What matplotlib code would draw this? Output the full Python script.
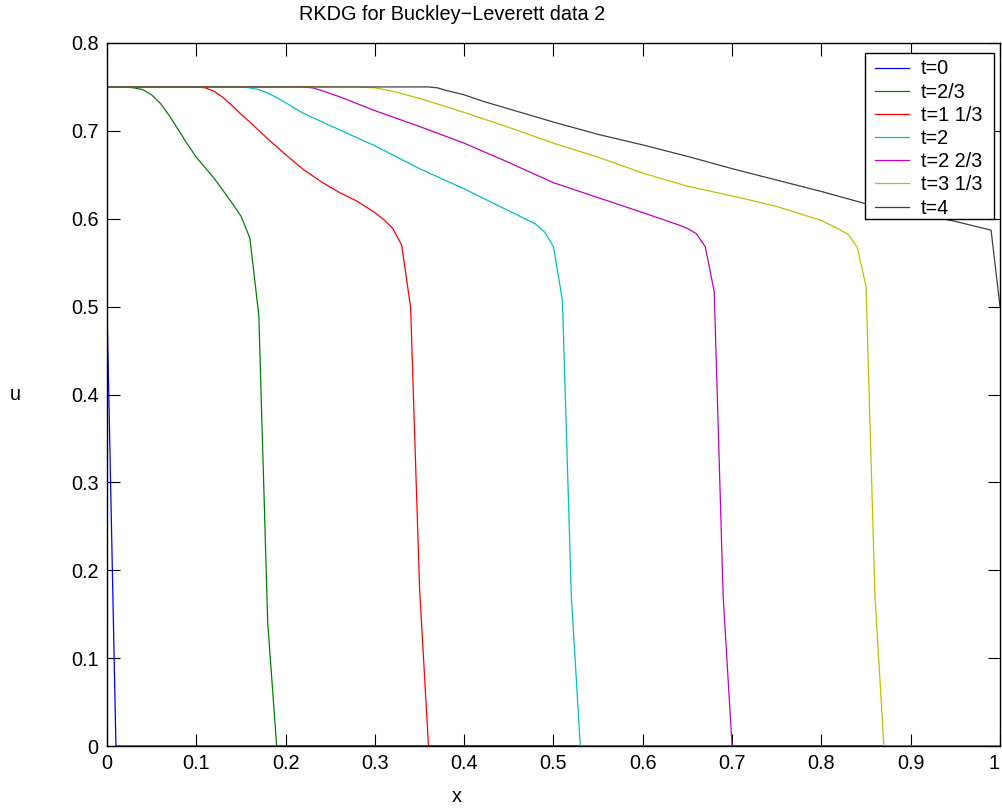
import matplotlib
matplotlib.use("Agg")
import matplotlib.pyplot as plt
from matplotlib.patches import Rectangle

plt.rcParams["font.family"] = ["Liberation Sans", "DejaVu Sans"]

# solution snapshots (x, u)
x_t0 = [0.0, 0.01, 1.0]
u_t0 = [0.5, 0.0, 0.0]

x_t1 = [0.0, 0.02, 0.03, 0.04, 0.05, 0.06, 0.07, 0.08, 0.09, 0.10, 0.11, 0.12,
        0.13, 0.14, 0.15, 0.16, 0.17, 0.18, 0.19, 1.0]
u_t1 = [0.75, 0.75, 0.749, 0.747, 0.741, 0.731, 0.717, 0.701, 0.685, 0.670, 0.658,
        0.646, 0.632, 0.618, 0.603, 0.578, 0.49, 0.14, 0.0, 0.0]

x_t2 = [0.0, 0.09, 0.10, 0.11, 0.12, 0.13, 0.14, 0.15, 0.16, 0.18, 0.20, 0.22,
        0.24, 0.26, 0.28, 0.30, 0.31, 0.32, 0.33, 0.34, 0.35, 0.36, 1.0]
u_t2 = [0.75, 0.75, 0.750, 0.749, 0.745, 0.738, 0.729, 0.719, 0.710, 0.691, 0.673,
        0.656, 0.642, 0.630, 0.620, 0.607, 0.599, 0.589, 0.570, 0.499, 0.18, 0.0, 0.0]

x_t3 = [0.0, 0.15, 0.16, 0.17, 0.18, 0.19, 0.20, 0.22, 0.25, 0.30, 0.35, 0.40,
        0.45, 0.47, 0.48, 0.49, 0.50, 0.51, 0.52, 0.53, 1.0]
u_t3 = [0.75, 0.75, 0.749, 0.747, 0.743, 0.738, 0.732, 0.720, 0.706, 0.683, 0.657,
        0.634, 0.609, 0.599, 0.594, 0.585, 0.568, 0.507, 0.17, 0.0, 0.0]

x_t4 = [0.0, 0.22, 0.23, 0.24, 0.26, 0.28, 0.30, 0.35, 0.40, 0.45, 0.50, 0.55,
        0.60, 0.64, 0.65, 0.66, 0.67, 0.68, 0.69, 0.70, 1.0]
u_t4 = [0.75, 0.75, 0.749, 0.746, 0.739, 0.731, 0.723, 0.705, 0.686, 0.664, 0.641,
        0.624, 0.607, 0.593, 0.589, 0.583, 0.568, 0.517, 0.17, 0.0, 0.0]

x_t5 = [0.0, 0.28, 0.30, 0.32, 0.35, 0.40, 0.45, 0.50, 0.55, 0.60, 0.65, 0.70,
        0.75, 0.80, 0.82, 0.83, 0.84, 0.85, 0.86, 0.87, 1.0]
u_t5 = [0.75, 0.75, 0.749, 0.745, 0.737, 0.721, 0.704, 0.686, 0.670, 0.652, 0.637,
        0.626, 0.614, 0.598, 0.588, 0.582, 0.568, 0.523, 0.17, 0.0, 0.0]

x_t6 = [0.0, 0.36, 0.37, 0.38, 0.40, 0.42, 0.45, 0.50, 0.55, 0.60, 0.65, 0.70,
        0.75, 0.80, 0.85, 0.90, 0.95, 0.99, 1.0]
u_t6 = [0.75, 0.75, 0.749, 0.746, 0.741, 0.734, 0.725, 0.710, 0.696, 0.684, 0.671,
        0.657, 0.644, 0.631, 0.617, 0.607, 0.597, 0.587, 0.50]

labels = ["t=0", "t=2/3", "t=1 1/3", "t=2", "t=2 2/3", "t=3 1/3", "t=4"]

# matlab default color order
colors = [(0, 0, 1), (0, 0.5, 0), (1, 0, 0), (0, 0.75, 0.75),
          (0.75, 0, 0.75), (0.75, 0.75, 0), (0.25, 0.25, 0.25)]

series = [(x_t0, u_t0), (x_t1, u_t1), (x_t2, u_t2), (x_t3, u_t3),
          (x_t4, u_t4), (x_t5, u_t5), (x_t6, u_t6)]

FS = 14.3
W, H = 1003, 808

fig = plt.figure(figsize=(W / 100, H / 100), dpi=100)
ax = fig.add_axes([107 / W, 62 / H, 893 / W, 703 / H])

handles = []
for (xs, us), lab, c in zip(series, labels, colors):
    ln, = ax.plot(xs, us, color=c, linewidth=0.9, label=lab)
    handles.append(ln)

ax.set_xlim(0, 1)
ax.set_ylim(0, 0.8)
ax.set_xticks([0, 0.1, 0.2, 0.3, 0.4, 0.5, 0.6, 0.7, 0.8, 0.9, 1.0])
ax.set_xticklabels(["0", "0.1", "0.2", "0.3", "0.4", "0.5", "0.6", "0.7", "0.8", "0.9", "1"])
ax.set_yticks([0, 0.1, 0.2, 0.3, 0.4, 0.5, 0.6, 0.7, 0.8])
ax.set_yticklabels(["0", "0.1", "0.2", "0.3", "0.4", "0.5", "0.6", "0.7", "0.8"])
ax.tick_params(direction="in", length=9, width=0.8, top=True, right=True,
               labelsize=FS, pad=6)
# keep the last x label inside the canvas
ax.get_xticklabels()[-1].set_horizontalalignment("right")
for sp in ax.spines.values():
    sp.set_linewidth(1.0)

fig.text(452 / W, 1 - 14 / H, "RKDG for Buckley\u2212Leverett data 2",
         ha="center", va="center", fontsize=FS)
fig.text(457 / W, 1 - 797 / H, "x", ha="center", va="center", fontsize=FS)
fig.text(15 / W, 1 - 395 / H, "u", ha="center", va="center", fontsize=FS)

# matlab-style legend box, wider than its text
box = Rectangle((865 / W, 1 - 218.5 / H), 129 / W, 165.5 / H,
                transform=fig.transFigure, facecolor="white",
                edgecolor="black", linewidth=1.0)
fig.add_artist(box)
leg = fig.legend(handles, labels, loc="upper left",
                 bbox_to_anchor=(875 / W, 1 - 59.5 / H),
                 bbox_transform=fig.transFigure, fontsize=FS, frameon=False,
                 borderaxespad=0, borderpad=0, handlelength=1.7,
                 handletextpad=0.6, labelspacing=0.21)

fig.savefig("out.png", dpi=100)
